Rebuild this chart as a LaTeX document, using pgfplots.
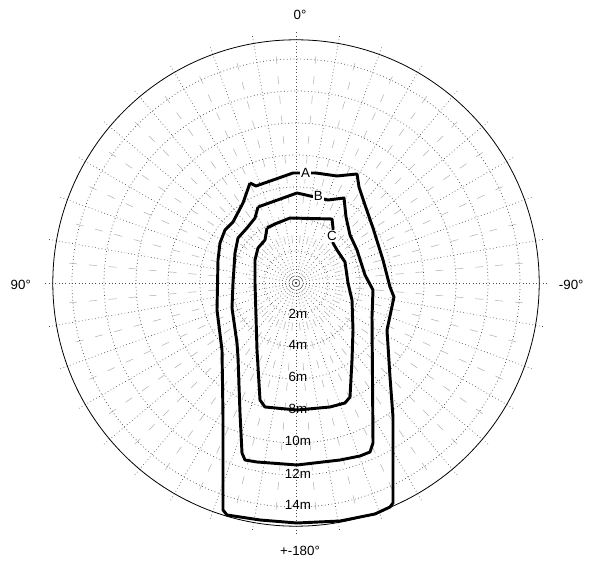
\documentclass[border=0pt]{standalone}
\usepackage{fontspec}
\setmainfont{Liberation Sans}
\usepackage{pgfplots}
\pgfplotsset{compat=1.18}

% contour lines, x to the right (-90 deg side), y up (0 deg), metres
\pgfplotstableread{
x y
-2.875 6.25
-2.5 6.0625
-0.1875 6.875
1.25 6.875
2.5625 6.6875
3.8125 6.8125
3.9375 6.0
4.3125 4.875
4.8125 3.4375
5.4375 1.4375
5.875 -0.25
6.125 -0.875
5.6875 -2.9375
5.875 -5.875
6.0625 -8.375
6.0625 -13.75
5.875 -14.0
4.9375 -14.4375
2.75 -14.875
0.0625 -15.0
-2.25 -14.8125
-4.3125 -14.5
-4.5625 -14.1875
-4.5625 -8.375
-4.625 -4.1875
-4.9375 -1.6875
-4.875 1.4375
-4.75 2.5
-4.4375 3.3125
-3.9375 3.8125
-3.3125 5.0
-2.875 6.25
}\curveA

\pgfplotstableread{
x y
-2.375 4.75
0.0625 5.625
2.0 5.1875
3.0 5.3125
3.125 4.125
3.375 3.0
3.8125 2.0625
4.3125 0.5
4.8125 -0.4375
4.75 -2.125
4.8125 -10.0
4.625 -10.5625
4.0 -10.8125
2.75 -11.0625
0.0625 -11.375
-2.4375 -11.1875
-3.1875 -11.0625
-3.375 -10.625
-3.5 -8.125
-3.625 -4.625
-3.6875 -3.75
-4.0 -1.5625
-3.9375 0
-3.8125 1.875
-3.625 2.8125
-3.0625 3.4375
-2.5625 4.0625
-2.375 4.75
}\curveB

\pgfplotstableread{
x y
-1.8125 3.4375
-1.3125 3.6875
-0.375 4.0625
2.25 4.0
2.3125 3.4375
2.3125 2.5
2.5625 2.0625
3.0625 1.3125
3.25 0
3.5 -1.0625
3.5625 -2.9375
3.5 -4.8125
3.375 -7.125
3.0625 -7.5
2.125 -7.75
0.0625 -7.9375
-1.9375 -7.75
-2.25 -7.3125
-2.4375 -4.1875
-2.5625 0
-2.5625 1.4375
-2.375 2.1875
-1.9375 2.6875
-1.8125 3.4375
}\curveC

\begin{document}
\begin{tikzpicture}
\begin{axis}[
  x=12pt, y=12pt,
  xmin=-18.5, xmax=18.5, ymin=-17.3125, ymax=17.6875,
  scale only axis, hide axis, clip=false,
  every node/.style={font=\fontsize{10}{12}\selectfont},
]
\path (axis cs:-18.5,-17.3125) rectangle (axis cs:18.5,17.6875);

% dashed secondary spokes
\pgfplotsinvokeforeach{5,15,25,35,45,55,65,75,85,95,105,115,125,135,145,155,165,175,185,195,205,215,225,235,245,255,265,275,285,295,305,315,325,335,345,355}{
  \draw[black!30, line width=0.4pt, dash pattern=on 6pt off 9pt] (axis cs:0,0) ++(#1:30pt) -- ++(#1:150pt);
}
% dotted spokes
\pgfplotsinvokeforeach{0,10,20,30,40,50,60,70,80,90,100,110,120,130,140,150,160,170,180,190,200,210,220,230,240,250,260,270,280,290,300,310,320,330,340,350}{
  \draw[black!70, dotted, line width=0.5pt] (axis cs:0,0) -- ++(#1:189pt);
}
% dotted range circles every 2 m
\pgfplotsinvokeforeach{2,4,6,8,10,12,14}{
  \draw[black!70, dotted, line width=0.55pt] (axis cs:0,0) circle[radius=#1*12pt];
}
% outer circle
\draw[black, line width=0.6pt] (axis cs:0,0) circle[radius=182.4pt];

\addplot[black, line width=2.2pt, line join=round, mark=none] table {\curveA};
\addplot[black, line width=2.2pt, line join=round, mark=none] table {\curveB};
\addplot[black, line width=2.2pt, line join=round, mark=none] table {\curveC};

\node[fill=white, inner sep=1pt] at (axis cs:0.6,6.9) {A};
\node[fill=white, inner sep=1pt] at (axis cs:1.4,5.45) {B};
\node[fill=white, inner sep=1pt] at (axis cs:2.25,2.95) {C};

\node at (axis cs:0.12,-1.9) {2m};
\node at (axis cs:0.12,-3.9) {4m};
\node at (axis cs:0.12,-5.9) {6m};
\node at (axis cs:0.12,-7.9) {8m};
\node at (axis cs:0.12,-9.9) {10m};
\node at (axis cs:0.12,-11.9) {12m};
\node at (axis cs:0.12,-13.9) {14m};

\node at (axis cs:0.25,16.75) {0°};
\node at (axis cs:-17.2,-0.1) {90°};
\node at (axis cs:17.2,-0.1) {-90°};
\node at (axis cs:0.25,-16.75) {+-180°};
\end{axis}
\end{tikzpicture}
\end{document}
